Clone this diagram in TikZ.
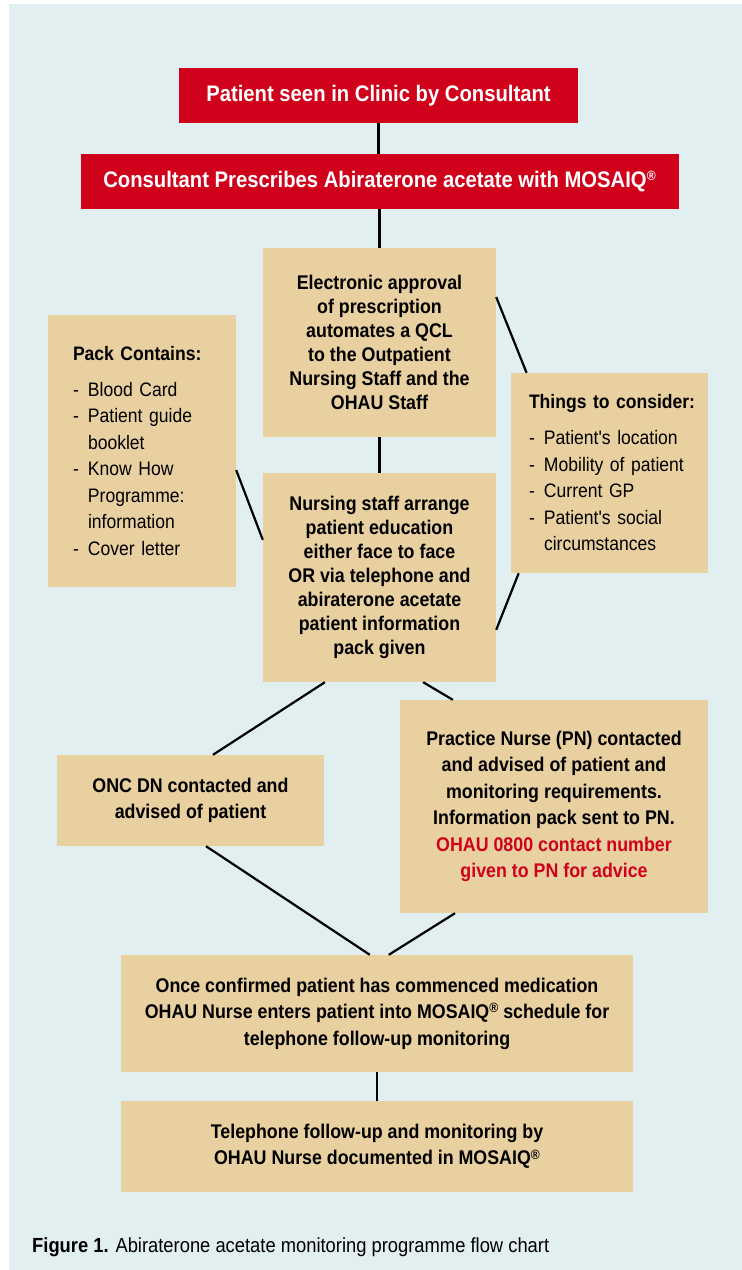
\documentclass[tikz,border=0pt]{standalone}
\usepackage{fontspec}
\setmainfont{Liberation Sans}[FakeStretch=0.9, Ligatures=TeXOff]
\usetikzlibrary{calc}

\definecolor{bgblue}{RGB}{225,239,240}
\definecolor{mosred}{RGB}{208,2,27}
\definecolor{boxtan}{RGB}{232,208,160}

\newcommand{\itm}[1]{\makebox[15pt][l]{-}#1}
\newcommand{\cnt}[1]{\makebox[15pt][l]{}#1}
\newcommand{\reg}{\raisebox{0.55ex}{\fontsize{13.5}{13.5}\selectfont ®}}

\begin{document}
\begin{tikzpicture}
                        [
                            x=1pt, y=-1pt,
                            redbox/.style = {shape=rectangle, fill=mosred, text=white, inner sep=0pt, align=center, font=\fontsize{22.5}{26}\selectfont\bfseries},
                            tanbox/.style = {shape=rectangle, fill=boxtan, inner sep=0pt, align=center, font=\fontsize{19.8}{26.5}\selectfont\bfseries},
                            tightbox/.style = {tanbox, font=\fontsize{19.8}{24}\selectfont\bfseries},
                            listbox/.style = {shape=rectangle, fill=boxtan, inner ysep=0pt, align=left, font=\fontsize{19.5}{26.5}\selectfont},
                            link/.style = {draw=black, line width=2.2pt},
                        ]

                        \useasboundingbox (0,0) rectangle (742,1270);
                        \fill[bgblue] (9,4) rectangle (742,1270);

                        \node[redbox, minimum width=399pt, minimum height=55pt] (clinic) at (378.5,95.5) {Patient seen in Clinic by Consultant};
                        \node[redbox, minimum width=598pt, minimum height=55pt] (prescribe) at (379.5,181.5) {Consultant Prescribes Abiraterone acetate with MOSAIQ\reg};
                        \node[tightbox, minimum width=233pt, minimum height=189pt] (approval) at (379.5,342.5) {Electronic approval\\ of prescription\\ automates a QCL\\ to the Outpatient\\ Nursing Staff and the\\ OHAU Staff};
                        \node[listbox, inner xsep=25pt, text width=138pt, minimum height=272pt] (pack) at (142,451) {\mbox{\bfseries Pack Contains:}\\[9.5pt] \itm{Blood Card}\\ \itm{Patient guide}\\ \cnt{booklet}\\ \itm{Know How}\\ \cnt{Programme:}\\ \cnt{information}\\ \itm{Cover letter}};
                        \node[listbox, inner xsep=18pt, text width=161pt, minimum height=200pt] (consider) at (609.5,473) {\mbox{\bfseries Things to consider:}\\[9.5pt] \itm{Patient's location}\\ \itm{Mobility of patient}\\ \itm{Current GP}\\ \itm{Patient's social}\\ \cnt{circumstances}};
                        \node[tightbox, minimum width=233pt, minimum height=209pt] (educate) at (379.5,577.5) {Nursing staff arrange\\ patient education\\ either face to face\\ OR via telephone and\\ abiraterone acetate\\ patient information\\ pack given};
                        \node[tanbox, minimum width=267pt, minimum height=91pt] (oncdn) at (190.5,800.5) {ONC DN contacted and\\ advised of patient};
                        \node[tanbox, minimum width=308pt, minimum height=213pt] (pn) at (554,806.5) {Practice Nurse (PN) contacted\\ and advised of patient and\\ monitoring requirements.\\ Information pack sent to PN.\\ \textcolor{mosred}{OHAU 0800 contact number}\\ \textcolor{mosred}{given to PN for advice}};
                        \node[tanbox, minimum width=512pt, minimum height=117pt] (enrol) at (377,1013.5) {Once confirmed patient has commenced medication\\ OHAU Nurse enters patient into MOSAIQ\reg{} schedule for\\ telephone follow-up monitoring};
                        \node[tanbox, minimum width=512pt, minimum height=91pt] (followup) at (377,1146.5) {Telephone follow-up and monitoring by\\ OHAU Nurse documented in MOSAIQ\reg};
                        \node[anchor=base west, inner sep=0pt, font=\fontsize{20.4}{24}\selectfont] (caption) at (32,1252) {\textbf{Figure 1.} Abiraterone acetate monitoring programme flow chart};

                        \draw[link] (clinic.south) -- (clinic.south |- prescribe.north);
                        \draw[link] (prescribe.south -| approval.north) -- (approval.north);
                        \draw[link] (approval.south) -- (educate.north);
                        \draw[link] ($(approval.north east)!0.26!(approval.south east)$) -- ($(consider.north west)!0.08!(consider.north east)$);
                        \draw[link] ($(pack.north east)!0.57!(pack.south east)$) -- ($(educate.north west)!0.32!(educate.south west)$);
                        \draw[link] ($(consider.south west)!0.04!(consider.south east)$) -- ($(educate.north east)!0.75!(educate.south east)$);
                        \draw[link] ($(educate.south west)!0.266!(educate.south east)$) -- ($(oncdn.north west)!0.584!(oncdn.north east)$);
                        \draw[link] ($(educate.south west)!0.687!(educate.south east)$) -- ($(pn.north west)!0.172!(pn.north east)$);
                        \draw[link] ($(oncdn.south west)!0.558!(oncdn.south east)$) -- ($(enrol.north west)!0.486!(enrol.north east)$);
                        \draw[link] ($(pn.south west)!0.179!(pn.south east)$) -- ($(enrol.north west)!0.523!(enrol.north east)$);
                        \draw[link] (enrol.south) -- (followup.north);
                    \end{tikzpicture}
\end{document}
